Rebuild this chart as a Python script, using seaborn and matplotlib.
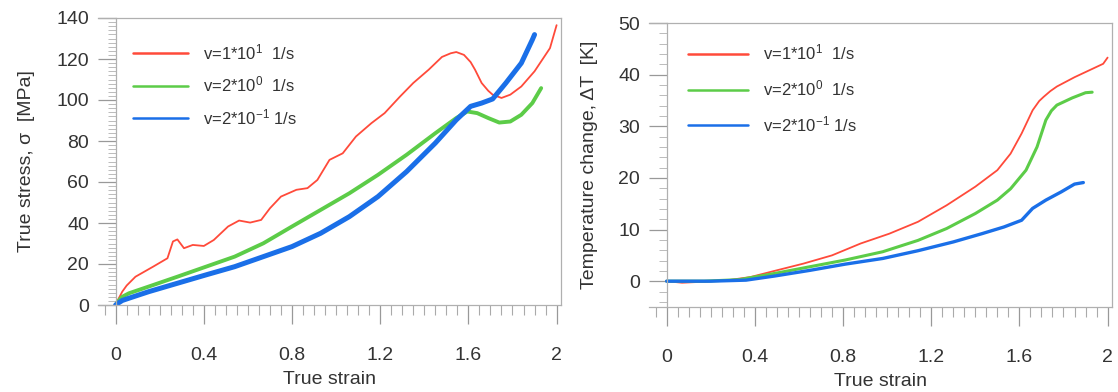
import numpy as np
import pandas as pd
import matplotlib
matplotlib.use("Agg")
import matplotlib.pyplot as plt
from matplotlib.ticker import MultipleLocator, FixedLocator
import seaborn as sns

# ---------------- data ----------------
labels = ["v=1*10$^{1}$  1/s", "v=2*10$^{0}$  1/s", "v=2*10$^{-1}$ 1/s"]
colors = ["#ff4a3a", "#5ccc48", "#1a6fe8"]

# Left: true stress vs true strain
s_red_x = [0, 0.01, 0.03, 0.05, 0.09, 0.17, 0.235, 0.26, 0.28, 0.31, 0.35, 0.40, 0.445, 0.51, 0.56, 0.61, 0.66,
           0.70, 0.75, 0.82, 0.87, 0.915, 0.97, 1.03, 1.09, 1.16, 1.22, 1.29, 1.35, 1.42, 1.48, 1.52, 1.545,
           1.58, 1.61, 1.63, 1.66, 1.69, 1.71, 1.75, 1.79, 1.84, 1.90, 1.97, 2.0]
s_red_y = [0, 2.4, 6.5, 9.5, 13.8, 18.7, 22.8, 31.0, 32.0, 27.7, 29.3, 28.8, 31.7, 38.3, 41.2, 40.2, 41.5,
           47.2, 52.9, 56.2, 57.0, 61.0, 70.8, 74.0, 82.2, 88.7, 93.6, 101.7, 108.3, 114.8, 121.0, 122.8, 123.4,
           122.0, 118.5, 114.8, 108.3, 104.5, 102.6, 101.0, 102.6, 106.6, 114.0, 125.3, 136.5]

s_grn_x = [0, 0.01, 0.03, 0.06, 0.15, 0.28, 0.41, 0.54, 0.67, 0.80, 0.93, 1.06, 1.19, 1.32, 1.45, 1.545,
           1.595, 1.64, 1.69, 1.74, 1.79, 1.84, 1.89, 1.93]
s_grn_y = [0, 1.6, 4.0, 5.7, 9.0, 13.8, 18.7, 23.6, 30.1, 38.3, 46.4, 54.5, 63.5, 73.3, 83.8, 91.2,
           94.4, 93.6, 91.2, 89.0, 89.5, 92.8, 98.5, 105.8]

s_blu_x = [0, 0.01, 0.03, 0.06, 0.15, 0.28, 0.41, 0.54, 0.67, 0.80, 0.93, 1.06, 1.19, 1.32, 1.45, 1.545,
           1.61, 1.66, 1.71, 1.77, 1.84, 1.89, 1.90]
s_blu_y = [0, 0.8, 2.2, 3.3, 6.5, 10.6, 14.7, 18.7, 23.6, 28.5, 35.0, 43.1, 52.9, 65.1, 79.0, 90.3,
           96.9, 98.5, 100.5, 108.3, 118.0, 129.4, 131.9]

# Right: temperature change vs true strain
t_red_x = [0, 0.07, 0.17, 0.28, 0.38, 0.49, 0.62, 0.75, 0.88, 1.01, 1.14, 1.27, 1.40, 1.50, 1.56,
           1.61, 1.66, 1.69, 1.71, 1.74, 1.77, 1.85, 1.935, 1.98, 2.0]
t_red_y = [0, -0.3, -0.1, 0.2, 0.8, 2.0, 3.4, 5.0, 7.3, 9.2, 11.5, 14.7, 18.3, 21.5, 24.7,
           28.6, 33.1, 34.9, 35.7, 36.8, 37.7, 39.5, 41.2, 42.1, 43.3]

t_grn_x = [0, 0.17, 0.33, 0.49, 0.65, 0.81, 0.98, 1.14, 1.27, 1.40, 1.50, 1.56, 1.63, 1.68, 1.72,
           1.745, 1.77, 1.84, 1.90, 1.93]
t_grn_y = [0, 0.0, 0.3, 1.5, 2.8, 4.1, 5.7, 7.9, 10.2, 13.1, 15.7, 17.9, 21.5, 26.0, 31.2,
           33.0, 34.1, 35.5, 36.5, 36.6]

t_blu_x = [0, 0.2, 0.36, 0.49, 0.65, 0.81, 0.98, 1.14, 1.30, 1.43, 1.53, 1.61, 1.66, 1.72, 1.79,
           1.85, 1.89]
t_blu_y = [0, 0.0, 0.2, 1.0, 2.1, 3.3, 4.4, 5.9, 7.6, 9.2, 10.5, 11.8, 14.1, 15.7, 17.3,
           18.8, 19.1]

x_ticks = [0, 0.4, 0.8, 1.2, 1.6, 2.0]
x_ticklabels = ["0", "0.4", "0.8", "1.2", "1.6", "2"]

# ---------------- style ----------------
sns.set_theme(style="white")
plt.rcParams["font.family"] = ["Liberation Sans", "DejaVu Sans"]
plt.rcParams["mathtext.default"] = "regular"

fig = plt.figure(figsize=(11.18, 3.92), dpi=100)
ax1 = fig.add_axes([98 / 1118, 1 - 305 / 392, (561 - 98) / 1118, (305 - 18) / 392])
ax2 = fig.add_axes([649 / 1118, 1 - 307 / 392, (1112 - 649) / 1118, (307 - 23) / 392])

def df(x, y, lab):
    return pd.DataFrame({"strain": x, "val": y, "series": lab})

left_sets = [(s_red_x, s_red_y, 1.3), (s_grn_x, s_grn_y, 2.8), (s_blu_x, s_blu_y, 3.6)]
right_sets = [(t_red_x, t_red_y, 1.3), (t_grn_x, t_grn_y, 2.2), (t_blu_x, t_blu_y, 2.4)]

for ax, sets in ((ax1, left_sets), (ax2, right_sets)):
    for (xs, ys, lw), lab, c in zip(sets, labels, colors):
        sns.lineplot(data=df(xs, ys, lab), x="strain", y="val", ax=ax, color=c,
                     linewidth=lw, label=lab, sort=False, estimator=None,
                     solid_joinstyle="round", solid_capstyle="round")

tick_col = "#333333"
frame_col = "#b0b0b0"

def style(ax, ylim, yminor, ylabel, ytick_vals):
    ax.set_xlim(-0.08, 2.02)
    ax.set_ylim(*ylim)
    ax.spines["left"].set_position(("data", 0))
    for s in ax.spines.values():
        s.set_color(frame_col)
        s.set_linewidth(0.9)
    ax.set_xticks(x_ticks)
    ax.set_xticklabels(x_ticklabels)
    ax.xaxis.set_minor_locator(MultipleLocator(0.05))
    ax.yaxis.set_major_locator(FixedLocator(ytick_vals))
    ax.yaxis.set_minor_locator(MultipleLocator(yminor))
    ax.tick_params(axis="x", which="major", direction="out", length=14, width=0.9,
                   color="#999999", labelsize=14, labelcolor=tick_col, pad=16, bottom=True)
    ax.tick_params(axis="x", which="minor", direction="out", length=7, width=0.8,
                   color="#aaaaaa", bottom=True)
    ax.tick_params(axis="y", which="major", direction="out", length=13, width=0.9,
                   color="#999999", labelsize=14, labelcolor=tick_col, pad=6, left=True)
    ax.tick_params(axis="y", which="minor", direction="out", length=6, width=0.7,
                   color="#bbbbbb", left=True)
    ax.set_xlabel("True strain", fontsize=14, color=tick_col, labelpad=5)
    ax.set_ylabel(ylabel, fontsize=14, color=tick_col)
    ax.grid(False)

style(ax1, (0, 140), 2, "True stress, σ  [MPa]", [0, 20, 40, 60, 80, 100, 120, 140])
style(ax2, (-5, 50), 2, "Temperature change, ΔT  [K]", [0, 10, 20, 30, 40, 50])
ax1.yaxis.set_label_coords(-0.135, 0.5)
ax2.yaxis.set_label_coords(-0.11, 0.5)

ax1.legend(loc="upper left", bbox_to_anchor=(0.075, 0.915), frameon=False, fontsize=12,
           handlelength=3.3, handletextpad=0.9, labelspacing=0.75, borderpad=0, borderaxespad=0,
           labelcolor=tick_col)
ax2.legend(loc="upper left", bbox_to_anchor=(0.085, 0.93), frameon=False, fontsize=12,
           handlelength=3.6, handletextpad=0.9, labelspacing=0.95, borderpad=0, borderaxespad=0,
           labelcolor=tick_col)
for ax in (ax1, ax2):
    for ln in ax.get_legend().get_lines():
        ln.set_linewidth(1.8)

fig.savefig("out.png", dpi=100)
